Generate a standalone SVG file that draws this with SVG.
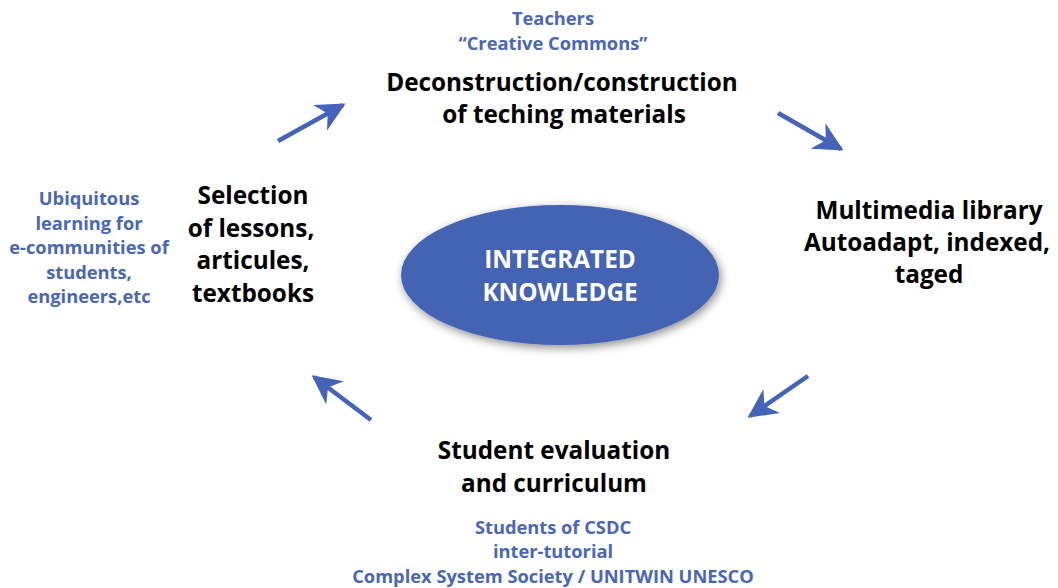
<svg xmlns="http://www.w3.org/2000/svg" width="1058" height="588" viewBox="0 0 1058 588">
<style>
.main{font-family:"Open Sans","Liberation Sans",sans-serif;font-weight:bold;font-size:24.3px;fill:#000;text-anchor:middle}
.note{font-family:"Open Sans","Liberation Sans",sans-serif;font-weight:bold;font-size:18.3px;fill:#4a66b5;text-anchor:middle}
.center{font-family:"Open Sans","Liberation Sans",sans-serif;font-weight:bold;font-size:24.3px;fill:#fff;text-anchor:middle}
.arrow{stroke:#4563b8;stroke-width:4.5;fill:none;marker-end:url(#head)}
</style>
<defs>
<marker id="head" viewBox="0 0 10 10" refX="9" refY="5" markerWidth="6.5" markerHeight="6.5" markerUnits="strokeWidth" orient="auto">
<path d="M0,0 L10,5 L0,10 L3,5 z" fill="#4563b8"/>
</marker>
<filter id="shadow" x="-20%" y="-30%" width="140%" height="160%">
<feGaussianBlur in="SourceAlpha" stdDeviation="5"/>
<feOffset dx="2" dy="3"/>
<feComponentTransfer><feFuncA type="linear" slope="0.45"/></feComponentTransfer>
<feMerge><feMergeNode/><feMergeNode in="SourceGraphic"/></feMerge>
</filter>
</defs>
<rect width="1058" height="588" fill="#fff"/>
<g id="center-node">
<ellipse cx="560" cy="275" rx="159" ry="70" fill="#4563b3" filter="url(#shadow)"/>
<text class="center" x="560" y="268">INTEGRATED</text>
<text class="center" x="560" y="301">KNOWLEDGE</text>
</g>
<g id="top-node">
<text class="note" x="553" y="25">Teachers</text>
<text class="note" x="553" y="50">“Creative Commons”</text>
<text class="main" x="562" y="91">Deconstruction/construction</text>
<text class="main" x="564" y="123">of teching materials</text>
</g>
<g id="right-node">
<text class="main" x="929" y="219">Multimedia library</text>
<text class="main" x="927" y="251">Autoadapt, indexed,</text>
<text class="main" x="929" y="283">taged</text>
</g>
<g id="bottom-node">
<text class="main" x="554" y="459">Student evaluation</text>
<text class="main" x="554" y="492">and curriculum</text>
<text class="note" x="553" y="534">Students of CSDC</text>
<text class="note" x="553" y="558">inter-tutorial</text>
<text class="note" x="553" y="583">Complex System Society / UNITWIN UNESCO</text>
</g>
<g id="left-node">
<text class="main" x="253" y="204">Selection</text>
<text class="main" x="251" y="237">of lessons,</text>
<text class="main" x="253" y="269">articules,</text>
<text class="main" x="253" y="302">textbooks</text>
<text class="note" x="89" y="205">Ubiquitous</text>
<text class="note" x="89" y="230">learning for</text>
<text class="note" x="89" y="254">e-communities of</text>
<text class="note" x="89" y="279">students,</text>
<text class="note" x="89" y="303">engineers,etc</text>
</g>
<g id="connectors">
<path class="arrow" d="M278,141 L343,105"/>
<path class="arrow" d="M778,113 L841,149"/>
<path class="arrow" d="M808,376 L750,416"/>
<path class="arrow" d="M371,420 L314,377"/>
</g>
</svg>
